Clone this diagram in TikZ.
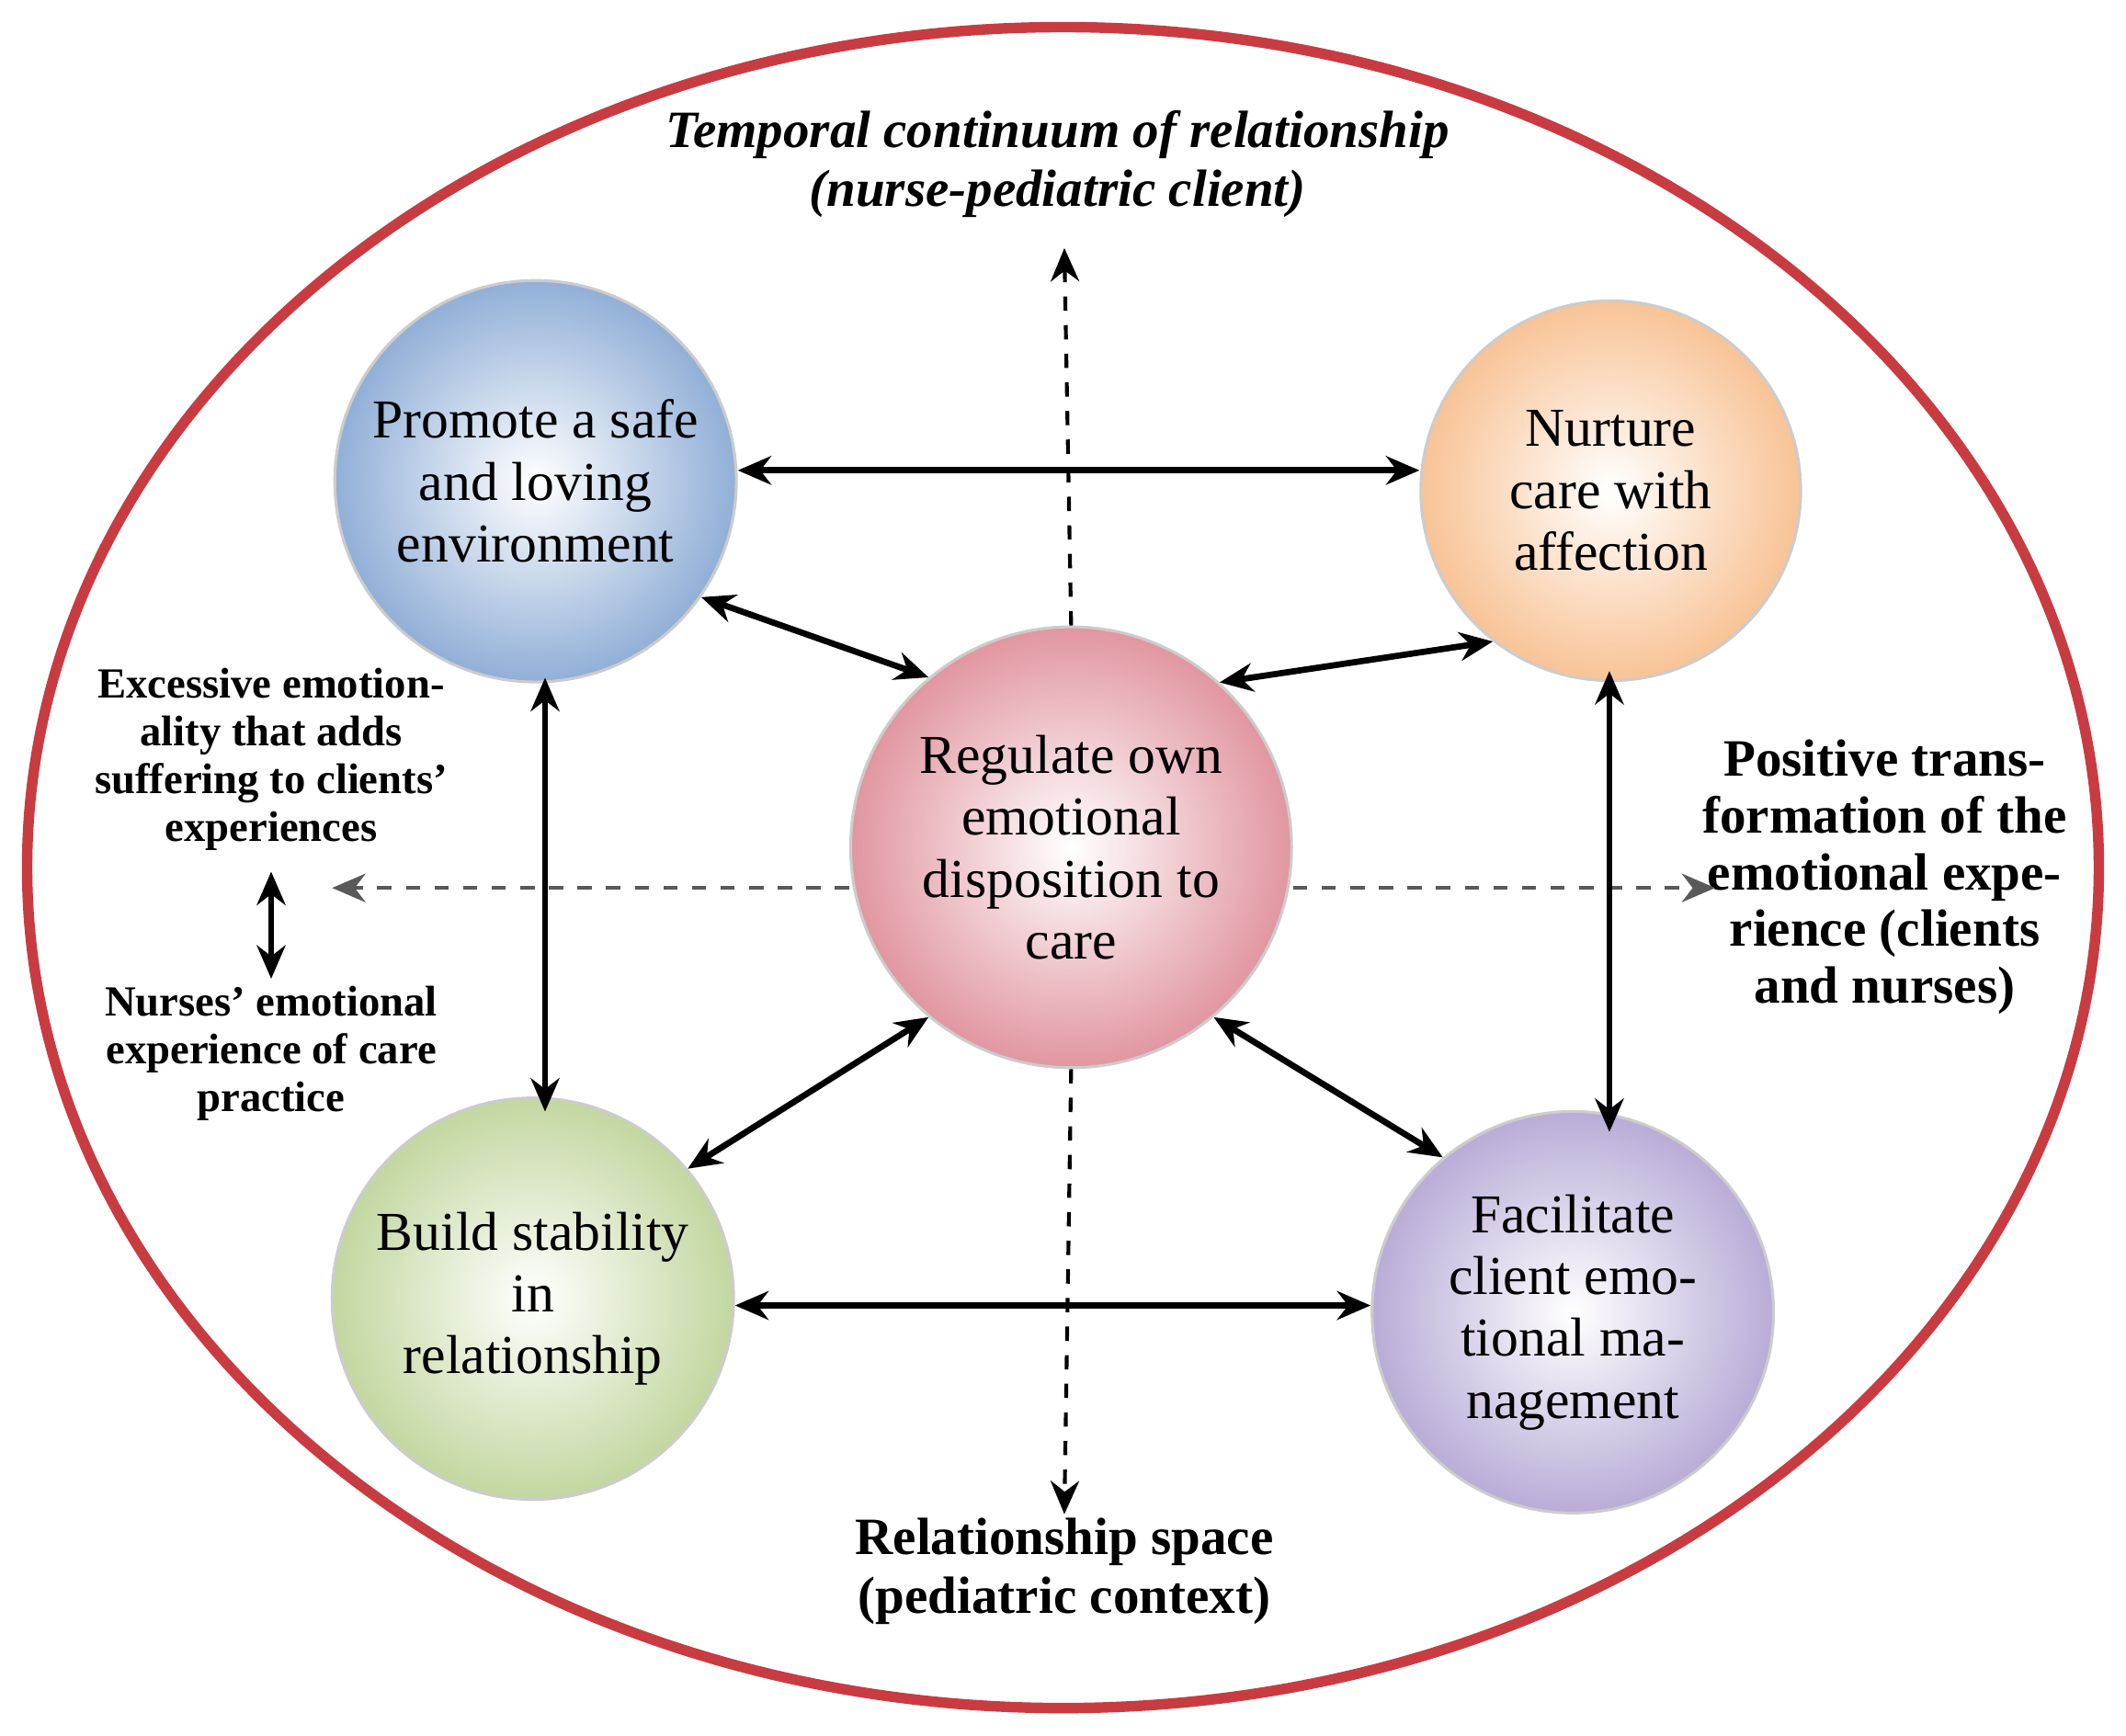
\documentclass[tikz,border=0pt]{standalone}
\usepackage{fontspec}
\setmainfont{Liberation Serif}
\usetikzlibrary{arrows.meta}
\definecolor{redring}{RGB}{200,60,65}
\definecolor{cblue}{RGB}{145,175,215}
\definecolor{corange}{RGB}{248,195,150}
\definecolor{cpink}{RGB}{225,150,160}
\definecolor{cgreen}{RGB}{195,215,160}
\definecolor{cpurple}{RGB}{185,172,215}
\begin{document}
\begin{tikzpicture}[x=0.01cm,y=-0.01cm,
  bub/.style={circle,minimum size=#1,align=center,inner sep=0pt,font=\fontsize{11.5}{13}\selectfont,draw=black!20,line width=0.6pt},
  link/.style={{Stealth[length=7pt,width=6pt]}-{Stealth[length=7pt,width=6pt]},line width=1.3pt},
  dsh/.style={-{Stealth[length=7pt,width=6pt]},dashed,line width=0.8pt},
  lbl/.style={align=center,font=\bfseries\fontsize{9}{10}\selectfont}]
\useasboundingbox (0,0) rectangle (1568,1280);
\draw[redring,line width=2.2pt] (784,640) ellipse [x radius=764, y radius=620];
\node[bub=2.96cm,inner color=white,outer color=cblue] (p) at (395,355) {Promote a safe\\and loving\\environment};
\node[bub=2.80cm,inner color=white,outer color=corange] (n) at (1188,362) {Nurture\\care with\\affection};
\node[bub=3.25cm,inner color=white,outer color=cpink] (c) at (790,625) {Regulate own\\emotional\\disposition to\\care};
\node[bub=2.96cm,inner color=white,outer color=cgreen] (b) at (393,958) {Build stability\\in\\relationship};
\node[bub=2.96cm,inner color=white,outer color=cpurple] (f) at (1160,968) {Facilitate\\client emo-\\tional ma-\\nagement};
\node[align=center,font=\bfseries\itshape\fontsize{11}{12.2}\selectfont] (top) at (780,121) {Temporal continuum of relationship\\(nurse-pediatric client)};
\node[align=center,font=\bfseries\fontsize{11}{12.2}\selectfont] (bot) at (785,1159) {Relationship space\\(pediatric context)};
\node[lbl] (ex) at (200,560) {Excessive emotion-\\ality that adds\\suffering to clients'\\experiences};
\node[lbl] (nu) at (200,777) {Nurses' emotional\\experience of care\\practice};
\node[align=center,font=\bfseries\fontsize{11}{11.9}\selectfont] (po) at (1390,647) {Positive trans-\\formation of the\\emotional expe-\\rience (clients\\and nurses)};
\coordinate (tu) at (785,183); \coordinate (td) at (785,1117);
\coordinate (hl) at (245,655); \coordinate (hr) at (1265,655);
\coordinate (au) at (200,643); \coordinate (ad) at (200,722);
\draw[dsh] (c.north) -- (tu);
\draw[dsh] (c.south) -- (td);
\draw[dsh,black!65] (c.west|-hl) -- (hl);
\draw[dsh,black!65] (c.east|-hr) -- (hr);
\draw[link] (au) -- (ad);
\draw[link] (p.east|-0,347) -- (n.west|-0,347);
\draw[link] (b.east|-0,963) -- (f.west|-0,963);
\draw[link] (402,500) -- (402,820);
\draw[link] (1187,495) -- (1187,835);
\draw[link] (p.-35) -- (c.130);
\draw[link] (n.-128) -- (c.48);
\draw[link] (c.-130) -- (b.40);
\draw[link] (c.-50) -- (f.130);
\end{tikzpicture}
\end{document}
